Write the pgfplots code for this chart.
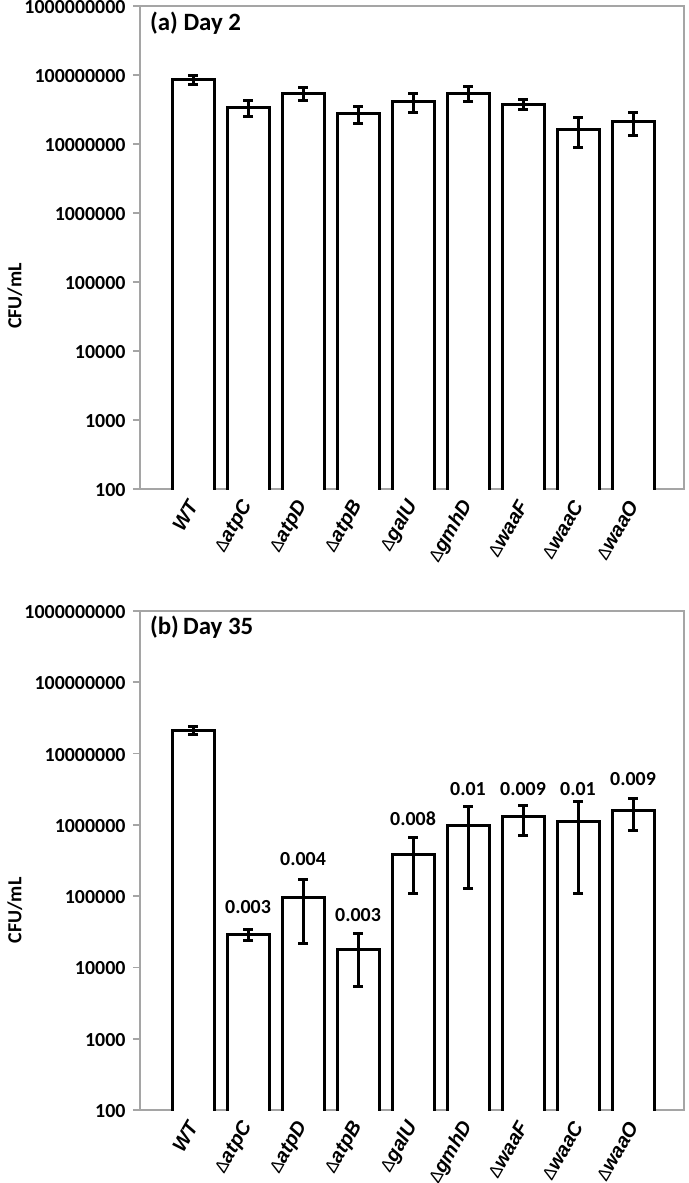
\documentclass[border=0pt]{standalone}
\usepackage{fontspec}
\setmainfont{Carlito}
\newfontfamily\arialfont{Liberation Sans}
\usepackage{pgfplots}
\pgfplotsset{compat=1.18}
\usepackage{pgfplotstable}
\definecolor{framegray}{RGB}{165,165,165}
\newcommand{\D}{{\mdseries\upshape\fontsize{17.5}{19}\selectfont Δ}}

\pgfplotstableread{
x y e
0 8.47e7 1.30e7
1 3.42e7 0.88e7
2 5.45e7 1.13e7
3 2.77e7 0.77e7
4 4.12e7 1.27e7
5 5.45e7 1.30e7
6 3.78e7 0.57e7
7 1.64e7 0.75e7
8 2.12e7 0.77e7
}\dayTwo

\pgfplotstableread{
x y e
0 2.14e7 0.29e7
1 2.86e4 0.50e4
2 9.60e4 7.40e4
3 1.76e4 1.22e4
4 3.90e5 2.80e5
5 9.80e5 8.50e5
6 1.30e6 5.80e5
7 1.13e6 1.02e6
8 1.61e6 7.70e5
}\dayThirtyFive

\pgfplotstableread{
x y lab
1 6.93e4 0.003
2 3.29e5 0.004
3 5.52e4 0.003
4 1.24e6 0.008
5 3.18e6 0.01
6 3.18e6 0.009
7 3.18e6 0.01
8 4.40e6 0.009
}\pvals

\begin{document}
\begin{tikzpicture}
\useasboundingbox (0,0) rectangle (689bp,-1183bp);
\begin{axis}[
    scale only axis, width=544bp, height=483bp,
    at={(140bp,-489bp)}, anchor=south west,
    ymode=log, ymin=100, ymax=1e9,
    xmin=-0.964, xmax=8.927,
    ytick={100,1000,10000,100000,1000000,10000000,100000000,1000000000},
    yticklabels={100,1000,10000,100000,1000000,10000000,100000000,1000000000},
    yminorticks=false,
    xtick={0,1,2,3,4,5,6,7,8},
    xticklabels={WT,\D atpC,\D atpD,\D atpB,\D galU,\D gmhD,\D waaF,\D waaC,\D waaO},
    axis line style={framegray, line width=2.2bp},
    ytick pos=left, xtick pos=bottom,
    tick align=outside, major tick length=7bp,
    ytick style={framegray, line width=1.8bp},
    xtick style={draw=none},
    y tick label style={font=\bfseries\fontsize{20}{22}\selectfont, xshift=-4bp, yshift=-1bp},
    x tick label style={font=\arialfont\bfseries\itshape\fontsize{20}{22}\selectfont,
                        rotate=60, anchor=east, xshift=-2bp, yshift=-3bp},
    ylabel={CFU/mL},
    ylabel style={font=\bfseries\fontsize{20}{22}\selectfont,
                  at={(axis description cs:-0.23,0.4)}, anchor=center},
  ]
\addplot[ybar, bar width=42bp, draw=black, fill=white, line width=3bp,
    error bars/y dir=both, error bars/y explicit,
    error bars/error bar style={line width=3bp, black},
    error bars/error mark options={rotate=90, line width=3bp, mark size=5bp, black}]
  table[x=x, y=y, y error=e] {\dayTwo};
\node[anchor=west, font=\bfseries\fontsize{25}{27}\selectfont] at (rel axis cs:0.012,0.965) {(a) Day 2};
\end{axis}
\begin{axis}[
    scale only axis, width=544bp, height=499bp,
    at={(140bp,-1110bp)}, anchor=south west,
    ymode=log, ymin=100, ymax=1e9,
    xmin=-0.964, xmax=8.927,
    ytick={100,1000,10000,100000,1000000,10000000,100000000,1000000000},
    yticklabels={100,1000,10000,100000,1000000,10000000,100000000,1000000000},
    yminorticks=false,
    xtick={0,1,2,3,4,5,6,7,8},
    xticklabels={WT,\D atpC,\D atpD,\D atpB,\D galU,\D gmhD,\D waaF,\D waaC,\D waaO},
    axis line style={framegray, line width=2.2bp},
    ytick pos=left, xtick pos=bottom,
    tick align=outside, major tick length=7bp,
    ytick style={framegray, line width=1.8bp},
    xtick style={draw=none},
    y tick label style={font=\bfseries\fontsize{20}{22}\selectfont, xshift=-4bp, yshift=-1bp},
    x tick label style={font=\arialfont\bfseries\itshape\fontsize{20}{22}\selectfont,
                        rotate=60, anchor=east, xshift=-2bp, yshift=-3bp},
    ylabel={CFU/mL},
    ylabel style={font=\bfseries\fontsize{20}{22}\selectfont,
                  at={(axis description cs:-0.23,0.4)}, anchor=center},
  ]
\addplot[ybar, bar width=42bp, draw=black, fill=white, line width=3bp,
    error bars/y dir=both, error bars/y explicit,
    error bars/error bar style={line width=3bp, black},
    error bars/error mark options={rotate=90, line width=3bp, mark size=5bp, black}]
  table[x=x, y=y, y error=e] {\dayThirtyFive};
\addplot[draw=none, mark=none, nodes near coords, point meta=explicit symbolic,
  nodes near coords style={anchor=center, font=\bfseries\fontsize{20}{22}\selectfont}]
  table[x=x, y=y, meta=lab] {\pvals};
\node[anchor=west, font=\bfseries\fontsize{25}{27}\selectfont] at (rel axis cs:0.012,0.968) {(b)\,Day 35};
\end{axis}
\end{tikzpicture}
\end{document}
